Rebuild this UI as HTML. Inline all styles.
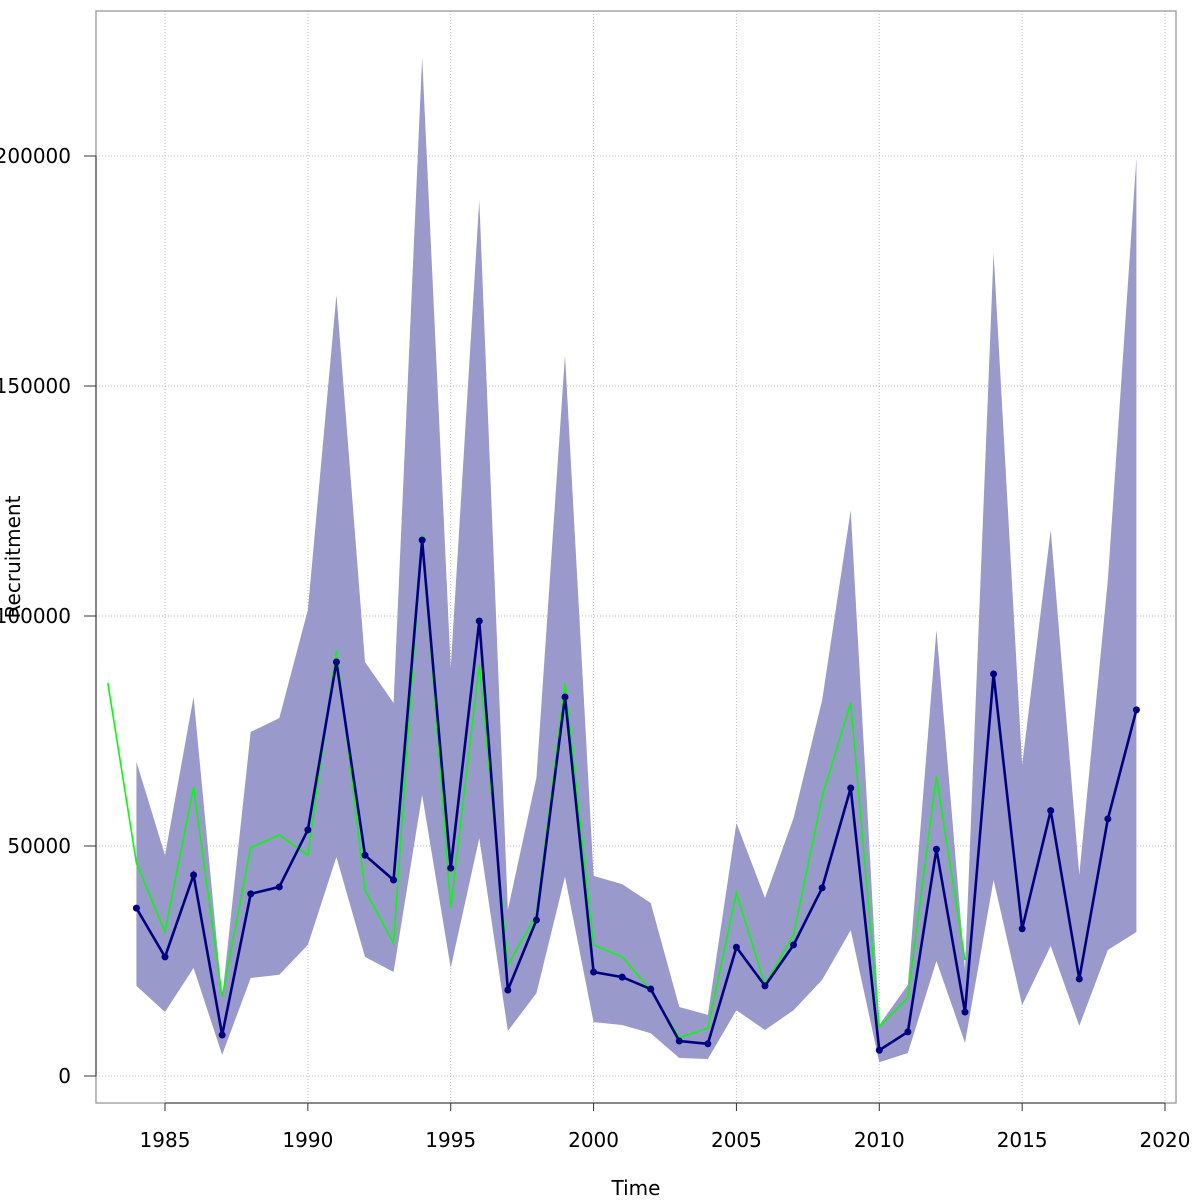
<!DOCTYPE html>
<html><head><meta charset="utf-8"><style>
body{margin:0;background:#fff;}
svg{display:block;font-family:"DejaVu Sans","Liberation Sans",sans-serif;}
</style></head><body>
<svg id="chart" width="1200" height="1200" xmlns="http://www.w3.org/2000/svg"></svg>
<script>
const years = [1984,1985,1986,1987,1988,1989,1990,1991,1992,1993,1994,1995,1996,1997,1998,1999,2000,2001,2002,2003,2004,2005,2006,2007,2008,2009,2010,2011,2012,2013,2014,2015,2016,2017,2018,2019];
const estimate = [36500,25900,43700,8900,39600,41100,53500,90000,48000,42600,116500,45200,98900,18700,33900,82400,22600,21500,18900,7600,7000,28000,19600,28500,40900,62600,5600,9600,49300,13900,87400,32000,57700,21100,55900,79600];
const upper = [68300,48000,82400,17000,74800,77800,101300,169800,90000,81100,221500,88700,190400,36100,64800,156700,43500,41700,37600,15000,13300,55000,38700,56100,81700,123000,11100,19800,97000,23000,178900,67600,118700,43700,107800,199600];
const lower = [19600,13900,23500,4600,21300,22000,28500,47600,25900,22600,61100,23500,51700,9800,18000,43300,11700,11100,9300,3900,3700,14300,10000,14300,20900,31700,3000,5000,25000,7200,42600,15400,28300,10900,27400,31300];
const greenYears = [1983,1984,1985,1986,1987,1988,1989,1990,1991,1992,1993,1994,1995,1996,1997,1998,1999,2000,2001,2002,2003,2004,2005,2006,2007,2008,2009,2010,2011,2012,2013];
const greenVals = [85400,46300,31300,62800,17200,49600,52400,48000,92600,40400,28900,117600,36500,89300,24100,35000,85400,28500,25900,18700,8300,10400,39800,19800,30700,60700,81100,10700,17000,65200,25200];
const xTicks = [1985,1990,1995,2000,2005,2010,2015,2020];
const yTicks = [0,50000,100000,150000,200000];

const NS="http://www.w3.org/2000/svg";
const svg=document.getElementById('chart');
const X=v=>165+(v-1985)*(1000/35);
const Y=v=>1076-v*0.0046;
function mk(tag,attrs,parent){const e=document.createElementNS(NS,tag);for(const k in attrs)e.setAttribute(k,attrs[k]);(parent||svg).appendChild(e);return e;}

const grid=mk('g',{});


xTicks.forEach(t=>mk('line',{x1:X(t),x2:X(t),y1:11,y2:1103,stroke:'#bbb','stroke-dasharray':'1,2','stroke-width':1},grid));
yTicks.forEach(t=>mk('line',{x1:96,x2:1176,y1:Y(t),y2:Y(t),stroke:'#bbb','stroke-dasharray':'1,2','stroke-width':1},grid));

let pts=years.map((y,i)=>X(y)+','+Y(upper[i]));
pts=pts.concat(years.map((y,i)=>X(y)+','+Y(lower[i])).reverse());
const band=mk('polygon',{points:pts.join(' '),fill:'#9999cc',stroke:'none'});



const g=mk('polyline',{points:greenYears.map((y,i)=>X(y)+','+Y(greenVals[i])).join(' '),fill:'none',stroke:'#00ff00','stroke-width':1.6});



const l=mk('polyline',{points:years.map((y,i)=>X(y)+','+Y(estimate[i])).join(' '),fill:'none',stroke:'#000080','stroke-width':2.6});


years.forEach((y,i)=>{
  const c=mk('circle',{cx:X(y),cy:Y(estimate[i]),r:3.5,fill:'#000080'});
  
  
});

const box=mk('rect',{x:96,y:11,width:1080,height:1092,fill:'none',stroke:'#999','stroke-width':1.3});



const xa=mk('g',{});


mk('line',{x1:X(1985),x2:X(2020),y1:1103,y2:1103,stroke:'#555','stroke-width':1.3},xa);
xTicks.forEach(t=>{
  mk('line',{x1:X(t),x2:X(t),y1:1103,y2:1111,stroke:'#333','stroke-width':1},xa);
  const tx=mk('text',{x:X(t),y:1147,'text-anchor':'middle','font-size':20,fill:'#000'},xa);
  
  
  tx.textContent=t;
});
const ya=mk('g',{});


mk('line',{x1:96,x2:96,y1:Y(200000),y2:Y(0),stroke:'#555','stroke-width':1.3},ya);
yTicks.forEach(t=>{
  mk('line',{x1:84,x2:96,y1:Y(t),y2:Y(t),stroke:'#333','stroke-width':1},ya);
  const tx=mk('text',{x:71,y:Y(t)+7,'text-anchor':'end','font-size':20,fill:'#000'},ya);
  
  
  tx.textContent=t;
});
const xt=mk('text',{x:636,y:1195,'text-anchor':'middle','font-size':20,fill:'#000'});


xt.textContent='Time';
const yt=mk('text',{x:0,y:0,'text-anchor':'middle','font-size':20,fill:'#000',transform:'translate(20,557) rotate(-90)'});


yt.textContent='Recruitment';
</script>
</body></html>
